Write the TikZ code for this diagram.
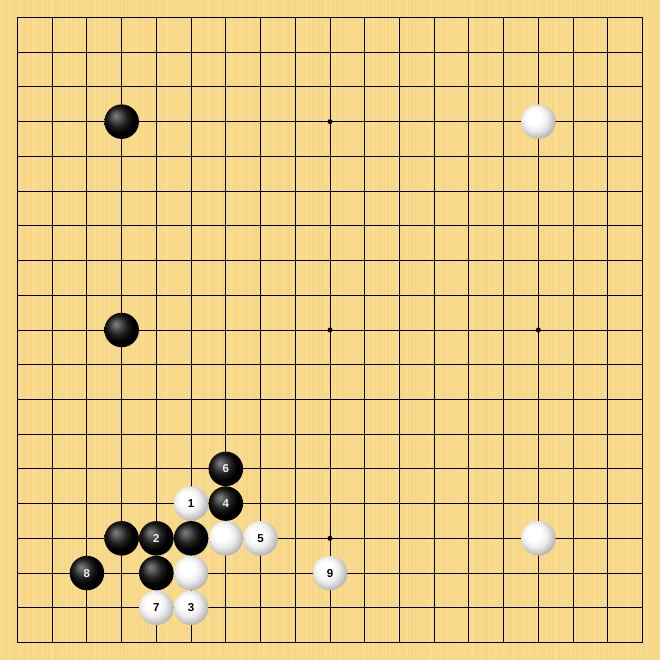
\documentclass[tikz,border=0pt]{standalone}
\usepackage{fontspec}
\setmainfont{Liberation Sans}
\definecolor{boardbg}{RGB}{249,219,142}
\definecolor{stripe}{RGB}{242,200,105}
\definecolor{stripelight}{RGB}{253,232,168}
\definecolor{numwhite}{RGB}{235,240,255}
\pgfdeclareradialshading{bshade}{\pgfpoint{-9bp}{9bp}}{color(0bp)=(black!50); color(5bp)=(black!62); color(14bp)=(black!88); color(22bp)=(black); color(31bp)=(black); color(36bp)=(black!80); color(50bp)=(black!80)}
\pgfdeclareradialshading{wshade}{\pgfpoint{-8bp}{8bp}}{color(0bp)=(white); color(10bp)=(white); color(18bp)=(black!7); color(26bp)=(black!24); color(33bp)=(black!40); color(50bp)=(black!45)}
\tikzset{
  gridline/.style={black, line width=0.9pt},
  edgeline/.style={black, line width=1.1pt},
  starpt/.style={circle, fill=black, inner sep=0pt, minimum size=5pt},
  bstone/.style={circle, inner sep=0pt, minimum size=34.5pt, shading=bshade, text=numwhite, font=\fontsize{11.5}{12}\selectfont\bfseries},
  wstone/.style={circle, inner sep=0pt, minimum size=34.5pt, shading=wshade, text=black, font=\fontsize{11.5}{12}\selectfont\bfseries},
}
\newcommand{\gp}[1]{17.5+34.722*(#1-1)}
\begin{document}
\begin{tikzpicture}[x=1pt,y=-1pt]
\useasboundingbox (0,0) rectangle (660,660);
\fill[boardbg] (0,0) rectangle (660,660);
\foreach \i in {0,...,219} {
  \pgfmathsetmacro\t{mod(\i*37,11)/11}
  \pgfmathsetmacro\u{mod(\i*23,7)/7}
  \fill[stripe, opacity=0.4*\t] ({3*\i},0) rectangle ++(1.5,660);
  \fill[stripelight, opacity=0.5*\u] ({3*\i+1.5},0) rectangle ++(1.5,660);
}
% grid
\foreach \k in {2,...,18} {
  \draw[gridline] ({\gp{\k}},{\gp{1}}) -- ({\gp{\k}},{\gp{19}});
  \draw[gridline] ({\gp{1}},{\gp{\k}}) -- ({\gp{19}},{\gp{\k}});
}
\draw[edgeline] ({\gp{1}},{\gp{1}}) rectangle ({\gp{19}},{\gp{19}});
% star points
\foreach \c/\r [count=\n] in {4/4,10/4,16/4,4/10,10/10,16/10,4/16,10/16,16/16}
  \node[starpt] (star\n) at ({\gp{\c}},{\gp{\r}}) {};
% stones
\node[bstone] (b1) at ({\gp{4}},{\gp{4}}) {};
\node[bstone] (b2) at ({\gp{4}},{\gp{10}}) {};
\node[wstone] (w1) at ({\gp{16}},{\gp{4}}) {};
\node[wstone] (w2) at ({\gp{16}},{\gp{16}}) {};
\node[bstone] (b3) at ({\gp{4}},{\gp{16}}) {};
\node[bstone] (b4) at ({\gp{6}},{\gp{16}}) {};
\node[bstone] (b5) at ({\gp{5}},{\gp{17}}) {};
\node[wstone] (w3) at ({\gp{7}},{\gp{16}}) {};
\node[wstone] (w4) at ({\gp{6}},{\gp{17}}) {};
\node[wstone] (m1) at ({\gp{6}},{\gp{15}}) {1};
\node[bstone] (m2) at ({\gp{5}},{\gp{16}}) {2};
\node[wstone] (m3) at ({\gp{6}},{\gp{18}}) {3};
\node[bstone] (m4) at ({\gp{7}},{\gp{15}}) {4};
\node[wstone] (m5) at ({\gp{8}},{\gp{16}}) {5};
\node[bstone] (m6) at ({\gp{7}},{\gp{14}}) {6};
\node[wstone] (m7) at ({\gp{5}},{\gp{18}}) {7};
\node[bstone] (m8) at ({\gp{3}},{\gp{17}}) {8};
\node[wstone] (m9) at ({\gp{10}},{\gp{17}}) {9};
\end{tikzpicture}
\end{document}
